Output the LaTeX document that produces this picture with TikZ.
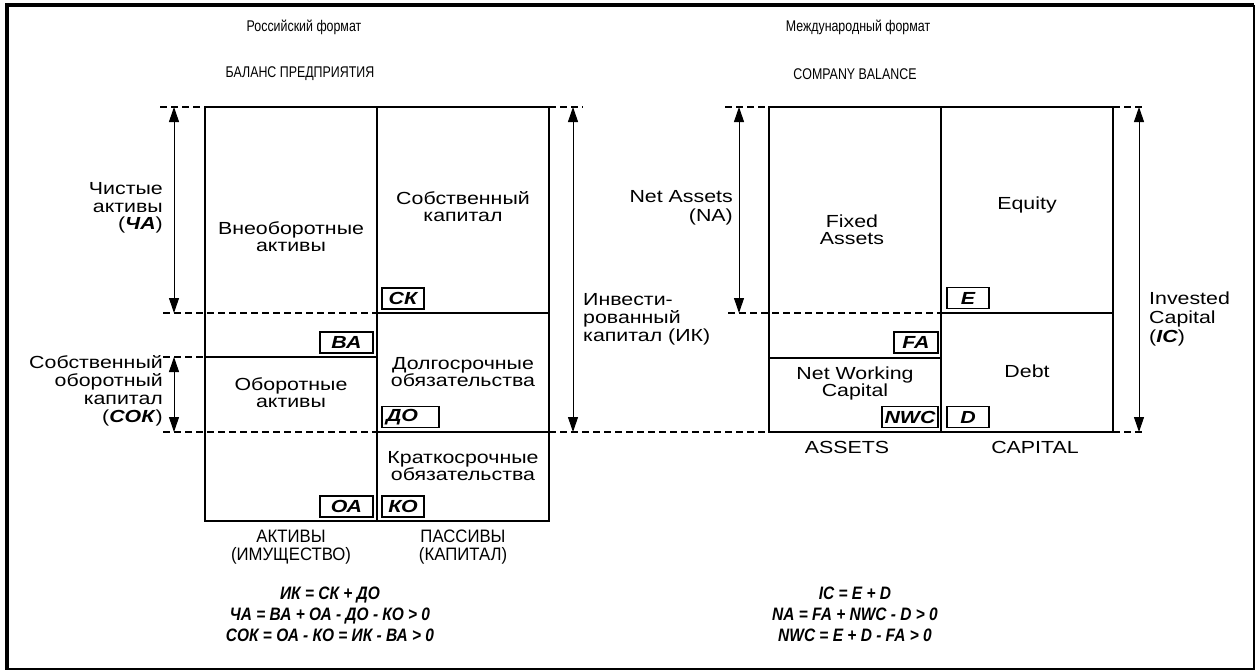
\documentclass[tikz,border=0pt]{standalone}
\usepackage{fontspec}
\setmainfont{Liberation Sans}[FakeStretch=1.22]
\newfontfamily\plainfont{Liberation Sans}[FakeStretch=0.93]
\newfontfamily\formfont{Liberation Sans}[FakeStretch=0.86]
\newfontfamily\narrowfont{Liberation Sans}[FakeStretch=0.8]
\usetikzlibrary{arrows.meta,positioning}

\begin{document}
\begin{tikzpicture}[x=1pt,y=-1pt,
  txt/.style={align=center, inner sep=0pt, font=\fontsize{17.5}{17}\selectfont},
  ltxt/.style={txt, align=left, anchor=west},
  rtxt/.style={txt, align=right, anchor=east},
  title/.style={inner sep=0pt, font=\narrowfont\fontsize{15.5}{17}\selectfont},
  foot/.style={align=center, inner sep=0pt, font=\plainfont\fontsize{18}{18}\selectfont},
  tag/.style={draw, line width=1.2pt, inner sep=0pt, minimum width=#1,
    minimum height=21pt, font=\fontsize{17.5}{17}\selectfont\bfseries\itshape},
  formula/.style={align=center, inner sep=0pt,
    font=\formfont\fontsize{18}{21}\selectfont\bfseries\itshape},
  frm/.style={line width=1.5pt},
  ext/.style={line width=1.5pt, dash pattern=on 7pt off 4pt},
  dim/.style={{Triangle[length=15pt,width=10pt]}-{Triangle[length=15pt,width=10pt]},
    line width=1pt}
]
\useasboundingbox (0,0) rectangle (1255,670);
% frame
\draw[line width=4pt] (7,668) -- (7,5) -- (1254,5);
\draw[line width=2pt] (1254,5) -- (1254,668.5) -- (5,668.5);

% titles
\node[title] (rusfmt) at (304,27) {Российский формат};
\node[title] (rusbal) at (300,74) {БАЛАНС ПРЕДПРИЯТИЯ};
\node[title] (intfmt) at (858,27) {Международный формат};
\node[title] (intbal) at (855,74) {COMPANY BALANCE};

% russian balance
\draw[frm] (205,107) rectangle (549,521);
\draw[frm] (377,107) -- (377,521);
\draw[frm] (205,357) -- (377,357);
\draw[frm] (377,313) -- (549,313);
\draw[frm] (377,432) -- (549,432);

\draw[ext] (160,107) -- (205,107);
\draw[ext] (163,313) -- (377,313);
\draw[ext] (163,357) -- (205,357);
\draw[ext] (163,432) -- (377,432);
\draw[ext] (549,107) -- (583,107);
\draw[ext] (549,432) -- (769,432);

\node[txt] (vna) at (291,237) {Внеоборотные\\активы};
\node[txt] (skap) at (463,207) {Собственный\\капитал};
\node[txt] (obor) at (291,393) {Оборотные\\активы};
\node[txt] (dolg) at (463,372) {Долгосрочные\\обязательства};
\node[txt] (krat) at (463,466) {Краткосрочные\\обязательства};
\node[foot] (aktivy) at (291,547) {АКТИВЫ\\(ИМУЩЕСТВО)};
\node[foot] (passivy) at (463,547) {ПАССИВЫ\\(КАПИТАЛ)};

\node[tag=42pt] (tSK) at (403,298.5) {СК};
\node[tag=53pt] (tVA) at (346.5,342.5) {ВА};
\node[tag=57pt, text width=49pt, align=left, inner xsep=4pt] (tDO) at (410.5,417) {ДО};
\node[tag=53pt] (tOA) at (346.5,506.5) {ОА};
\node[tag=42pt] (tKO) at (403,506.5) {КО};

% russian dimensions
\coordinate (chaT) at (174,107);
\coordinate (chaB) at (174,313);
\coordinate (sokT) at (174,357);
\coordinate (sokB) at (174,432);
\coordinate (ikT) at (573,107);
\coordinate (ikB) at (573,432);
\draw[dim] (chaT) -- (chaB);
\draw[dim] (sokT) -- (sokB);
\draw[dim] (ikT) -- (ikB);

\node[rtxt, font=\fontsize{17.5}{17.5}\selectfont] (chalbl) at (163,208) {Чистые\\активы\\(\textbf{\textit{ЧА}})};
\node[rtxt, font=\fontsize{17.5}{18}\selectfont] (soklbl) at (163,391) {Собственный\\оборотный\\капитал\\(\textbf{\textit{СОК}})};
\node[ltxt, font=\fontsize{17.5}{18}\selectfont] (iklbl) at (583,319) {Инвести-\\рованный\\капитал (ИК)};

\node[formula] (rusform) at (330,614)
  {ИК = СК + ДО\\ЧА = ВА + ОА - ДО - КО > 0\\СОК = ОА - КО = ИК - ВА > 0};

% international balance
\draw[frm] (769,107) rectangle (1113,432);
\draw[frm] (941,107) -- (941,432);
\draw[frm] (769,358) -- (941,358);
\draw[frm] (941,313) -- (1113,313);

\draw[ext] (725,107) -- (769,107);
\draw[ext] (728,313) -- (941,313);
\draw[ext] (1113,107) -- (1145,107);
\draw[ext] (1113,432) -- (1145,432);

\node[txt] (fixed) at (852,230) {Fixed\\Assets};
\node[txt] (equity) at (1027,205) {Equity};
\node[txt] (nwctxt) at (855,383) {Net Working\\Capital};
\node[txt] (debt) at (1027,371) {Debt};
\node[txt] (assets) at (847,447) {ASSETS};
\node[txt] (capital) at (1035,447) {CAPITAL};

\node[tag=42pt] (tE) at (968,298) {E};
\node[tag=44pt] (tFA) at (916,342.5) {FA};
\node[tag=56pt] (tNWC) at (910,417) {NWC};
\node[tag=42pt] (tD) at (968,417) {D};

\coordinate (naT) at (739,107);
\coordinate (naB) at (739,313);
\coordinate (icT) at (1139,107);
\coordinate (icB) at (1139,432);
\draw[dim] (naT) -- (naB);
\draw[dim] (icT) -- (icB);

\node[rtxt, font=\fontsize{17.5}{19}\selectfont] (nalbl) at (733,208) {Net Assets\\(NA)};
\node[ltxt, font=\fontsize{17.5}{19}\selectfont] (iclbl) at (1149,319) {Invested\\Capital\\(\textbf{\textit{IC}})};

\node[formula] (intform) at (855,614)
  {IC = E + D\\NA = FA + NWC - D > 0\\NWC = E + D - FA > 0};
\end{tikzpicture}
\end{document}
